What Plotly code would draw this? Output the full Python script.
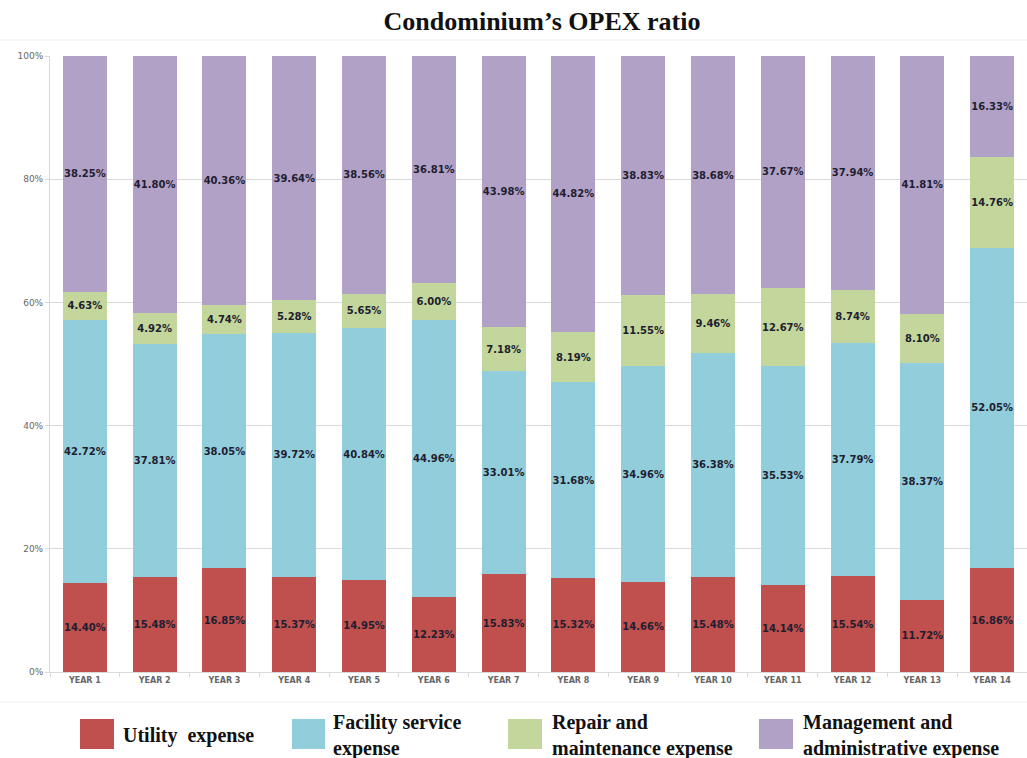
import plotly.graph_objects as go

years = ["YEAR 1", "YEAR 2", "YEAR 3", "YEAR 4", "YEAR 5", "YEAR 6", "YEAR 7",
         "YEAR 8", "YEAR 9", "YEAR 10", "YEAR 11", "YEAR 12", "YEAR 13", "YEAR 14"]
utility = [14.40, 15.48, 16.85, 15.37, 14.95, 12.23, 15.83, 15.32, 14.66, 15.48, 14.14, 15.54, 11.72, 16.86]
facility = [42.72, 37.81, 38.05, 39.72, 40.84, 44.96, 33.01, 31.68, 34.96, 36.38, 35.53, 37.79, 38.37, 52.05]
repair = [4.63, 4.92, 4.74, 5.28, 5.65, 6.00, 7.18, 8.19, 11.55, 9.46, 12.67, 8.74, 8.10, 14.76]
management = [38.25, 41.80, 40.36, 39.64, 38.56, 36.81, 43.98, 44.82, 38.83, 38.68, 37.67, 37.94, 41.81, 16.33]

series = [
    ("Utility expense", utility, "#c0504d"),
    ("Facility service expense", facility, "#92cddc"),
    ("Repair and maintenance expense", repair, "#c3d69b"),
    ("Management and administrative expense", management, "#b2a1c7"),
]
legend_text = [
    "Utility  expense",
    "Facility service<br>expense",
    "Repair and<br>maintenance expense",
    "Management and<br>administrative expense",
]

W, H = 1027, 758
PLOT_L, PLOT_R, PLOT_T, PLOT_B = 50, 1027, 56, 672  # pixel coords of plot area
L, T, R, B = PLOT_L, PLOT_T, W - PLOT_R, H - PLOT_B
PW, PH = PLOT_R - PLOT_L, PLOT_B - PLOT_T


def px(x):
    return (x - PLOT_L) / PW


def py(y):
    return (PLOT_B - y) / PH


fig = go.Figure()
for name, vals, col in series:
    fig.add_trace(go.Bar(
        x=years, y=vals, name=name, marker=dict(color=col, line=dict(width=0)),
        texttemplate="%{y:.2f}%", textposition="inside", insidetextanchor="middle",
        constraintext="none", textangle=0,
        textfont=dict(family="DejaVu Sans", size=10, color="#1e1e30", weight="bold"),
        showlegend=False,
    ))

shapes = []
annotations = []
sq_x = [(80, 114), (292, 325), (508, 542), (759, 793)]
txt_x = [121, 331, 550, 801]
for i, (name, vals, col) in enumerate(series):
    x0, x1 = sq_x[i]
    shapes.append(dict(type="rect", xref="paper", yref="paper",
                       x0=px(x0), x1=px(x1), y0=py(749), y1=py(719),
                       fillcolor=col, line=dict(width=0)))
    annotations.append(dict(text=legend_text[i], xref="paper", yref="paper", x=px(txt_x[i]), y=py(735),
                            xanchor="left", yanchor="middle", align="left", showarrow=False,
                            font=dict(family="Liberation Serif", size=20, color="#111111", weight="bold")))

for yy in (40, 702):
    shapes.append(dict(type="line", xref="paper", yref="paper", x0=px(0), x1=px(W),
                       y0=py(yy), y1=py(yy), line=dict(color="#efefef", width=1)))

fig.update_layout(
    width=W, height=H,
    margin=dict(l=L, r=R, t=T, b=B),
    paper_bgcolor="white", plot_bgcolor="white",
    barmode="stack", bargap=0.37,
    title=dict(text="Condominium’s OPEX ratio", x=542 / W, xanchor="center",
               yref="container", y=1 - 21 / H, yanchor="middle",
               font=dict(family="Liberation Serif", size=26, color="#111111", weight="bold")),
    shapes=shapes, annotations=annotations,
    xaxis=dict(showgrid=False, showline=True, linecolor="#d9d9d9", ticks="outside", tickson="boundaries",
               ticklen=4, tickcolor="#d9d9d9",
               tickfont=dict(family="DejaVu Sans", size=8, color="#666666", weight="bold")),
    yaxis=dict(range=[0, 100], dtick=20, ticksuffix="%", showgrid=True, gridcolor="#d9d9d9",
               showline=True, linecolor="#d9d9d9", ticks="outside", ticklen=4, tickcolor="#d9d9d9",
               zeroline=False,
               tickfont=dict(family="DejaVu Sans", size=9, color="#666666")),
)

fig.write_html("out.html", config={"displayModeBar": False},
               post_script="document.body.style.margin='0px';")
